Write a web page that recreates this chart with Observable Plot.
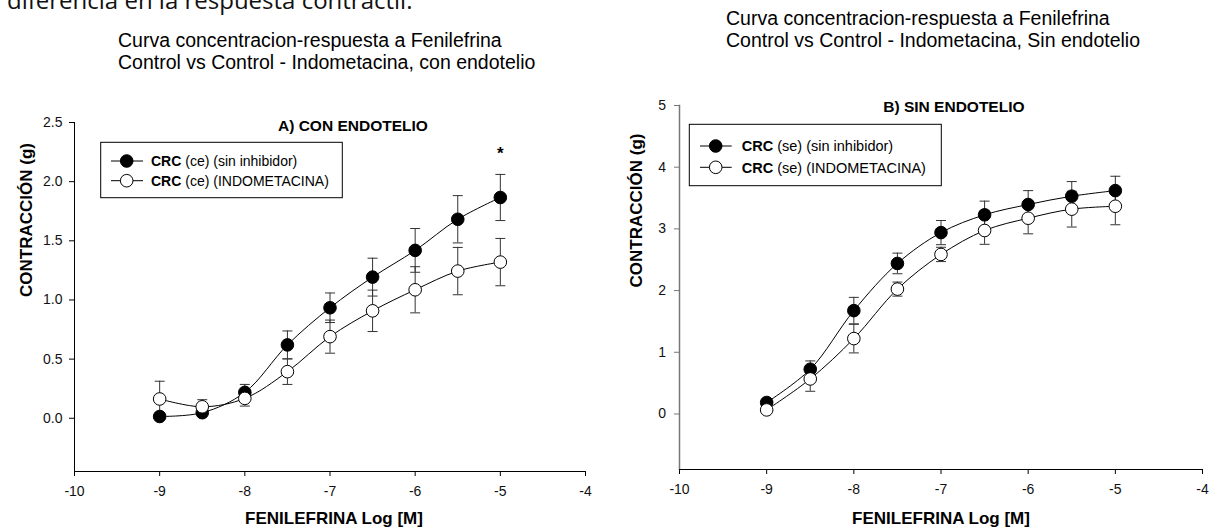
<!DOCTYPE html>
<html>
<head>
<meta charset="utf-8">
<script src="https://cdn.jsdelivr.net/npm/d3@7"></script>
<script src="https://cdn.jsdelivr.net/npm/@observablehq/plot@0.6"></script>
<style>
  html, body { margin: 0; padding: 0; background: #fff; }
  body { width: 1212px; height: 531px; overflow: hidden; position: relative; font-family: "Liberation Sans", Arial, sans-serif; }
  .abs { position: absolute; }
  #doc { left: 7px; top: -17px; font-family: "Open Sans", sans-serif; font-size: 24px; line-height: 33px; white-space: nowrap; color: #111; }
  .sub { font-size: 19.5px; line-height: 22px; white-space: nowrap; color: #000; }
  #panelA { left: 0; top: 90px; }
  #panelB { left: 606px; top: 90px; }
</style>
</head>
<body>
<div id="doc" class="abs"></div>
<div id="subA" class="abs sub" style="left:118px; top:29px;"></div>
<div id="subB" class="abs sub" style="left:726px; top:7px;"></div>
<div id="panelA" class="abs"></div>
<div id="panelB" class="abs"></div>
<script>
// ---------------- data ----------------
const docText = "diferencia en la respuesta contráctil.";
const subtitleA = ["Curva concentracion-respuesta a Fenilefrina", "Control vs Control - Indometacina, con endotelio"];
const subtitleB = ["Curva concentracion-respuesta a Fenilefrina", "Control vs Control - Indometacina, Sin endotelio"];
const titleA = "A) CON ENDOTELIO";
const titleB = "B) SIN ENDOTELIO";
const xLabel = "FENILEFRINA Log [M]";
const yLabel = "CONTRACCIÓN (g)";

const logConc = [-9, -8.5, -8, -7.5, -7, -6.5, -6, -5.5, -5];

// A) con endotelio
const ceSinInhibidor   = [0.015, 0.047, 0.219, 0.620, 0.934, 1.193, 1.419, 1.682, 1.866];
const ceSinInhibidorSE = [0.020, 0.030, 0.067, 0.118, 0.125, 0.160, 0.185, 0.200, 0.195];
const ceIndometacina   = [0.163, 0.097, 0.168, 0.394, 0.690, 0.908, 1.086, 1.244, 1.320];
const ceIndometacinaSE = [0.150, 0.060, 0.065, 0.108, 0.140, 0.175, 0.195, 0.200, 0.200];

// B) sin endotelio
const seSinInhibidor   = [0.186, 0.725, 1.675, 2.440, 2.940, 3.228, 3.395, 3.530, 3.620];
const seSinInhibidorSE = [0.030, 0.135, 0.215, 0.167, 0.196, 0.222, 0.225, 0.237, 0.233];
const seIndometacina   = [0.066, 0.568, 1.222, 2.024, 2.586, 2.974, 3.173, 3.320, 3.367];
const seIndometacinaSE = [0.030, 0.200, 0.232, 0.114, 0.116, 0.224, 0.253, 0.290, 0.300];

const legendPrefix = "CRC";
const legendA = ["(ce) (sin inhibidor)", "(ce) (INDOMETACINA)"];
const legendB = ["(se) (sin inhibidor)", "(se) (INDOMETACINA)"];

const xTicks = [-10, -9, -8, -7, -6, -5, -4];
const xTickLabels = ["-10", "-9", "-8", "-7", "-6", "-5", "-4"];
const yTicksA = [0, 0.5, 1, 1.5, 2, 2.5];
const yTickLabelsA = ["0.0", "0.5", "1.0", "1.5", "2.0", "2.5"];
const yTicksB = [0, 1, 2, 3, 4, 5];
const yTickLabelsB = ["0", "1", "2", "3", "4", "5"];

const starA = [{x: -5, y: 2.24, s: "*"}];

// ---------------- text ----------------
document.getElementById("doc").textContent = docText;
document.getElementById("subA").innerHTML = subtitleA.join("<br>");
document.getElementById("subB").innerHTML = subtitleB.join("<br>");

const capSymbol = {
  draw(ctx, size) {
    const r = Math.sqrt(size / Math.PI);
    ctx.moveTo(-r, 0);
    ctx.lineTo(r, 0);
  }
};

function rows(values, se) {
  return logConc.map((x, i) => ({x, v: values[i], se: se[i]}));
}

function lineMarks(data) {
  return [Plot.line(data, {x: "x", y: "v", curve: "catmull-rom", stroke: "#000", strokeWidth: 1})];
}
function errMarks(data) {
  return [
    Plot.ruleX(data, {x: "x", y1: d => d.v - d.se, y2: d => d.v + d.se, stroke: "#333", strokeWidth: 1}),
    Plot.dot(data, {x: "x", y: d => d.v + d.se, symbol: capSymbol, r: 5, stroke: "#333", strokeWidth: 1, fill: "none"}),
    Plot.dot(data, {x: "x", y: d => d.v - d.se, symbol: capSymbol, r: 5, stroke: "#333", strokeWidth: 1, fill: "none"})
  ];
}
function dotMarks(data, filled) {
  return [Plot.dot(data, {x: "x", y: "v", r: 6.3, fill: filled ? "#000" : "#fff", stroke: "#000", strokeWidth: 1})];
}

function makePanel(cfg) {
  const black = rows(cfg.blackV, cfg.blackSE);
  const open = rows(cfg.openV, cfg.openSE);
  const yLabelMap = new Map(cfg.yTicks.map((t, i) => [t, cfg.yTickLabels[i]]));
  const xLabelMap = new Map(xTicks.map((t, i) => [t, xTickLabels[i]]));
  const svg = Plot.plot({
    width: 606,
    height: 441,
    marginLeft: cfg.mLeft,
    marginTop: cfg.mTop,
    marginBottom: cfg.mBottom,
    marginRight: cfg.mRight,
    style: {fontFamily: "'Liberation Sans', Arial, sans-serif", fontSize: "14px", color: "#111", background: "#fff", overflow: "visible"},
    x: {domain: [-10, -4]},
    y: {domain: cfg.yDomain},
    marks: [
      Plot.axisX({ticks: xTicks, tickSize: 5, tickPadding: 10, tickFormat: d => xLabelMap.get(d), label: null, fontSize: 14, stroke: "#000"}),
      Plot.axisY({ticks: cfg.yTicks, tickSize: 5, tickPadding: cfg.yPad, tickFormat: d => yLabelMap.get(d), label: null, fontSize: 14, stroke: cfg.yAxisColor}),
      Plot.frame({anchor: "left", stroke: cfg.yAxisColor, strokeWidth: cfg.yAxisWidth}),
      Plot.frame({anchor: "bottom", stroke: "#000", strokeWidth: 1}),
      ...lineMarks(black),
      ...lineMarks(open),
      ...errMarks(black),
      ...errMarks(open),
      ...dotMarks(black, true),
      ...dotMarks(open, false),
      ...(cfg.star ? [Plot.text(cfg.star, {x: "x", y: "y", text: "s", fontSize: 17, fontWeight: "bold", fill: "#000"})] : []),
      Plot.text([yLabel], {text: d => d, frameAnchor: "left", rotate: -90, dx: cfg.yLabelDx, fontSize: 17, fontWeight: "bold", fill: "#000"}),
      Plot.text([xLabel], {text: d => d, frameAnchor: "bottom", dx: cfg.xLabelDx, dy: cfg.xLabelDy, fontSize: 17, fontWeight: "bold", fill: "#000"})
    ]
  });
  const s = d3.select(svg);
  // panel title
  s.append("text").attr("x", cfg.title.x).attr("y", cfg.title.y).attr("text-anchor", "start")
    .attr("font-size", 15.5).attr("font-weight", "bold").attr("fill", "#000").text(cfg.title.text);
  // legend
  const L = cfg.legend;
  const g = s.append("g").attr("text-anchor", "start");
  g.append("rect").attr("x", L.x).attr("y", L.y).attr("width", L.w).attr("height", L.h)
    .attr("fill", "#fff").attr("stroke", "#000").attr("stroke-width", 1);
  L.labels.forEach((lab, i) => {
    const cy = L.rows[i];
    g.append("line").attr("x1", L.lx1).attr("x2", L.lx2).attr("y1", cy).attr("y2", cy).attr("stroke", "#000");
    g.append("circle").attr("cx", L.mx).attr("cy", cy).attr("r", 6.3)
      .attr("fill", i === 0 ? "#000" : "#fff").attr("stroke", "#000");
    const t = g.append("text").attr("x", L.tx).attr("y", cy + 0.36 * L.fs).attr("text-anchor", "start")
      .attr("font-size", L.fs).attr("fill", "#000");
    t.append("tspan").attr("font-weight", "bold").text(legendPrefix);
    t.append("tspan").text(" " + lab);
  });
  return svg;
}

document.getElementById("panelA").appendChild(makePanel({
  blackV: ceSinInhibidor, blackSE: ceSinInhibidorSE,
  openV: ceIndometacina, openSE: ceIndometacinaSE,
  yDomain: [-0.45, 2.5], yTicks: yTicksA, yTickLabels: yTickLabelsA,
  mLeft: 74, mTop: 32, mBottom: 60, mRight: 21,
  yPad: 7, yAxisColor: "#000", yAxisWidth: 1,
  yLabelDx: -47.5, xLabelDx: 4, xLabelDy: 52.5,
  star: starA,
  title: {text: titleA, x: 278, y: 41},
  legend: {labels: legendA, x: 100.7, y: 52.3, w: 241.6, h: 55.4, rows: [71, 90.7], lx1: 111, lx2: 143, mx: 126.7, tx: 151, fs: 14}
}));

document.getElementById("panelB").appendChild(makePanel({
  blackV: seSinInhibidor, blackSE: seSinInhibidorSE,
  openV: seIndometacina, openSE: seIndometacinaSE,
  yDomain: [-0.9, 5], yTicks: yTicksB, yTickLabels: yTickLabelsB,
  mLeft: 73, mTop: 15, mBottom: 62, mRight: 10,
  yPad: 8.5, yAxisColor: "#777", yAxisWidth: 1.5,
  yLabelDx: -43, xLabelDx: 0, xLabelDy: 54.5,
  star: null,
  title: {text: titleB, x: 277.3, y: 22.3},
  legend: {labels: legendB, x: 83.3, y: 34.3, w: 252, h: 61.4, rows: [56, 77.3], lx1: 94, lx2: 125.7, mx: 109.7, tx: 135.7, fs: 14.5}
}));
</script>
</body>
</html>
